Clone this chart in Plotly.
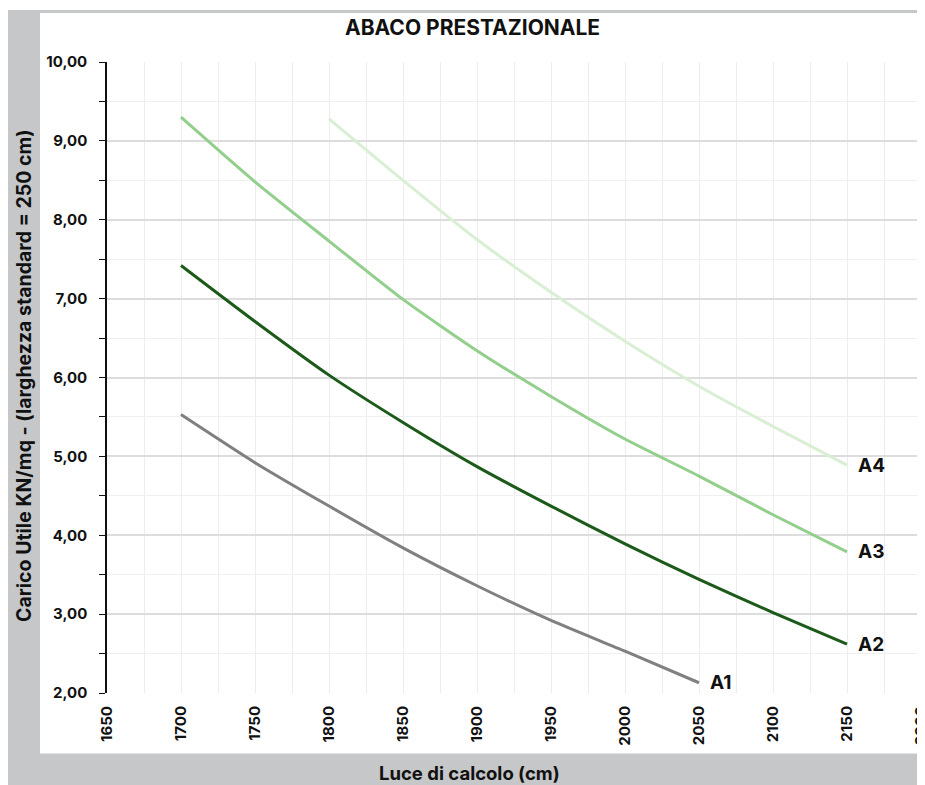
import plotly.graph_objects as go

# ---- data ----
x_a1 = [1700, 1750, 1800, 1850, 1900, 1950, 2000, 2050]
y_a1 = [5.53, 4.92, 4.37, 3.84, 3.36, 2.92, 2.53, 2.13]

x_a2 = [1700, 1750, 1800, 1850, 1900, 1950, 2000, 2050, 2100, 2150]
y_a2 = [7.42, 6.71, 6.03, 5.43, 4.87, 4.37, 3.89, 3.44, 3.02, 2.62]

x_a3 = [1700, 1750, 1800, 1850, 1900, 1950, 2000, 2050, 2100, 2150]
y_a3 = [9.30, 8.48, 7.73, 6.99, 6.34, 5.76, 5.22, 4.75, 4.26, 3.79]

x_a4 = [1800, 1850, 1900, 1950, 2000, 2050, 2100, 2150]
y_a4 = [9.28, 8.50, 7.75, 7.08, 6.46, 5.89, 5.38, 4.89]

series_names = ["A1", "A2", "A3", "A4"]
series_colors = ["#808080", "#1c5a1a", "#93cf8c", "#d9efd4"]

title_text = "ABACO PRESTAZIONALE"
x_title = "Luce di calcolo (cm)"
y_title = "Carico Utile KN/mq - (larghezza standard = 250 cm)"

FONT = "Inter"
W, H = 925, 785
OFF = 8  # page body margin
ML, MR, MT, MB = 99, 12, 54, 100
PW = W - ML - MR
PH = H - MT - MB


def px(sx):
    return (sx - OFF - ML) / PW


def py(sy):
    return (H - MB - (sy - OFF)) / PH


fig = go.Figure()
all_x = [x_a1, x_a2, x_a3, x_a4]
all_y = [y_a1, y_a2, y_a3, y_a4]
for name, xs, ys, col in zip(series_names, all_x, all_y, series_colors):
    fig.add_trace(go.Scatter(
        x=xs, y=ys, mode="lines", name=name,
        line=dict(color=col, width=3, shape="spline", smoothing=0.6),
        showlegend=False, hoverinfo="skip",
    ))
    fig.add_annotation(
        x=xs[-1], y=ys[-1], text=name, showarrow=False,
        xanchor="left", yanchor="middle", xshift=9,
        font=dict(family=FONT, size=19, color="#111111", weight=700),
    )

# background frame (gray border with white panel)
fig.add_shape(type="rect", xref="paper", yref="paper",
              x0=px(8), x1=px(945), y0=py(10), y1=py(800),
              fillcolor="#c6c7c9", line_width=0, layer="below")
fig.add_shape(type="rect", xref="paper", yref="paper",
              x0=px(40), x1=px(945), y0=py(13), y1=py(753.5),
              fillcolor="#ffffff", line_width=0, layer="below")

fig.add_annotation(xref="paper", yref="paper", x=px(472), y=py(28),
                   text=title_text, showarrow=False,
                   xanchor="center", yanchor="middle",
                   font=dict(family=FONT, size=21, color="#111111", weight=700))
fig.add_annotation(xref="paper", yref="paper", x=px(469), y=py(773),
                   text=x_title, showarrow=False,
                   xanchor="center", yanchor="middle",
                   font=dict(family=FONT, size=18.5, color="#111111", weight=700))
fig.add_annotation(xref="paper", yref="paper", x=px(24), y=py(376),
                   text=y_title, showarrow=False, textangle=-90,
                   xanchor="center", yanchor="middle",
                   font=dict(family=FONT, size=19.5, color="#111111", weight=700))

fig.update_layout(
    width=W, height=H,
    margin=dict(l=ML, r=MR, t=MT, b=MB, autoexpand=False),
    paper_bgcolor="#ffffff", plot_bgcolor="#ffffff",
    separators=",.",
    font=dict(family=FONT, color="#111111"),
)

fig.update_xaxes(
    range=[1650, 2200], dtick=50, tick0=1650, automargin=False,
    tickangle=-90, showline=False, zeroline=False,
    showgrid=True, gridcolor="#ededed", gridwidth=1,
    ticks="", ticklabelstandoff=9,
    tickfont=dict(family=FONT, size=15, color="#111111", weight=700),
    minor=dict(dtick=25, showgrid=True, gridcolor="#ededed", gridwidth=1),
)
fig.update_yaxes(
    range=[2, 10], dtick=1, tick0=2, tickformat=".2f", automargin=False,
    showline=True, linecolor="#111111", linewidth=1.5,
    zeroline=False, showgrid=True, gridcolor="#dddddd", gridwidth=1.5,
    ticks="outside", ticklen=6, tickcolor="#111111", tickwidth=1.2,
    ticklabelstandoff=9,
    tickfont=dict(family=FONT, size=15, color="#111111", weight=700),
    minor=dict(dtick=0.5, ticks="outside", ticklen=6, tickcolor="#111111",
               tickwidth=1.2, showgrid=True, gridcolor="#f0f0f0", gridwidth=1),
)

fig.write_html(
    "out.html",
    post_script="document.documentElement.style.overflow='hidden';"
                "document.body.style.overflow='hidden';",
)
